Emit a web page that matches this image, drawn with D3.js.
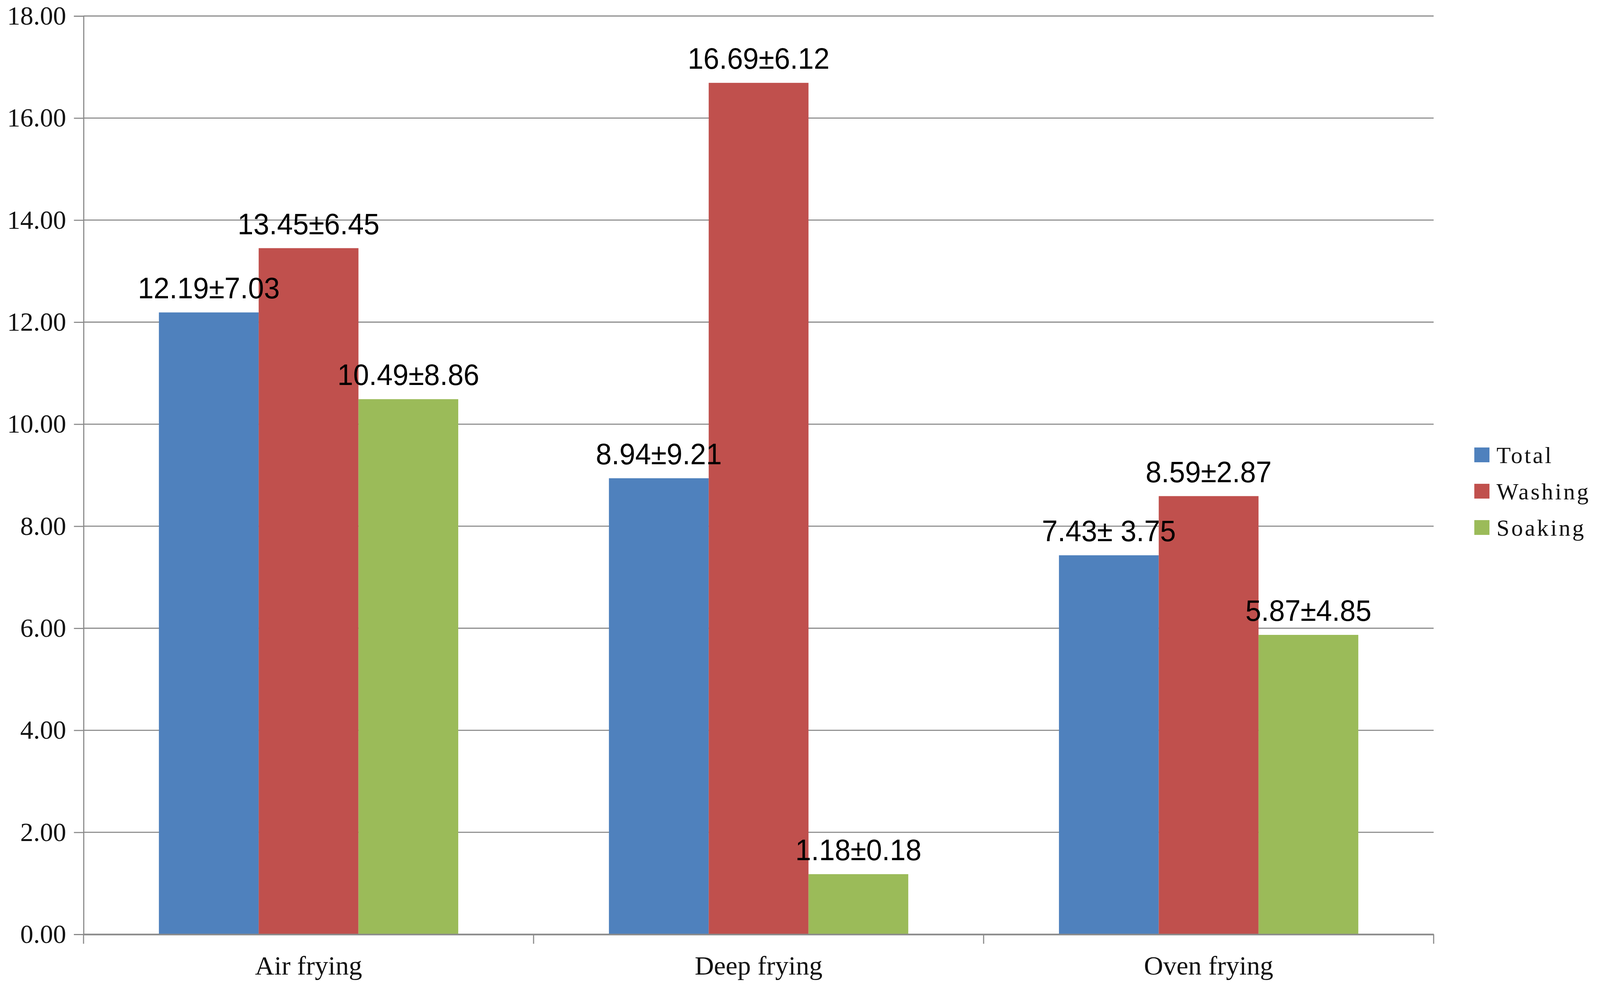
<!DOCTYPE html>
<html lang="en">
<head>
    <meta charset="UTF-8">
    <title>Frying chart</title>
    <script src="https://cdn.jsdelivr.net/npm/d3@7"></script>
    <style>
        html, body { margin: 0; padding: 0; width: 100%; height: 100%; overflow: hidden; background: #fff; }
        svg { display: block; }
    </style>
</head>
<body>
    <svg></svg>
<script>
    // data
    var categories = ["Air frying", "Deep frying", "Oven frying"];
    var seriesNames = ["Total", "Washing", "Soaking"];
    var seriesColors = ["#4F81BD", "#C0504D", "#9BBB59"];
    var totalValues = [12.19, 8.94, 7.43];
    var washingValues = [13.45, 16.69, 8.59];
    var soakingValues = [10.49, 1.18, 5.87];
    var totalLabels = ["12.19±7.03", "8.94±9.21", "7.43± 3.75"];
    var washingLabels = ["13.45±6.45", "16.69±6.12", "8.59±2.87"];
    var soakingLabels = ["10.49±8.86", "1.18±0.18", "5.87±4.85"];
    var yTicks = [0, 2, 4, 6, 8, 10, 12, 14, 16, 18];

    var allValues = [totalValues, washingValues, soakingValues];
    var allLabels = [totalLabels, washingLabels, soakingLabels];

    // layout is laid out on a 4328x2556 design and stretched to the window
    var W = window.innerWidth, H = window.innerHeight;
    var sx = W / 4328, sy = H / 2556, fs = Math.min(sx, sy);

    // plot box (window.top is reserved, so no bare "top")
    var plotLeft = 226 * sx, plotRight = 3878 * sx, plotTop = 41 * sy, plotBottom = 2393 * sy;
    var width = plotRight - plotLeft, height = plotBottom - plotTop;

    var svg = d3.select("svg").attr("width", W).attr("height", H);
    var g = svg.append("g").attr("transform", "translate(" + plotLeft + "," + plotTop + ")");

    var x0 = d3.scaleBand().domain(categories).range([0, width]).padding(0);
    var x1 = d3.scaleBand().domain(seriesNames).range([0, x0.bandwidth()])
        .paddingInner(0).paddingOuter(0.755);
    var y = d3.scaleLinear().domain([0, 18]).range([height, 0]);

    var gray = "#8a8a8a";

    // gridlines
    g.selectAll("line.grid")
        .data(yTicks)
        .join("line")
        .attr("class", "grid")
        .attr("x1", 0)
        .attr("x2", width)
        .attr("y1", function(d) { return y(d); })
        .attr("y2", function(d) { return y(d); })
        .attr("stroke", gray)
        .attr("stroke-width", 3 * fs);

    // y axis
    var yAxis = g.append("g")
        .call(d3.axisLeft(y).tickValues(yTicks).tickFormat(d3.format(".2f"))
            .tickSize(26 * sx).tickPadding(21 * sx));
    yAxis.selectAll("line").attr("stroke", gray).attr("stroke-width", 3 * fs);
    yAxis.select(".domain").attr("stroke", gray).attr("stroke-width", 3 * fs);
    yAxis.selectAll("text")
        .attr("font-family", "Liberation Serif")
        .attr("font-size", 71 * fs)
        .attr("fill", "#111");

    // bars
    var rows = [];
    categories.forEach(function(c, i) {
        seriesNames.forEach(function(s, j) {
            rows.push({cat: c, series: s, value: allValues[j][i], label: allLabels[j][i], color: seriesColors[j]});
        });
    });

    g.selectAll("rect.bar")
        .data(rows)
        .join("rect")
        .attr("class", "bar")
        .attr("x", function(d) { return x0(d.cat) + x1(d.series); })
        .attr("y", function(d) { return y(d.value); })
        .attr("width", x1.bandwidth())
        .attr("height", function(d) { return height - y(d.value); })
        .attr("fill", function(d) { return d.color; });

    // x axis
    var xAxis = g.append("g")
        .attr("transform", "translate(0," + height + ")")
        .call(d3.axisBottom(x0).tickSize(0).tickPadding(55 * sy));
    xAxis.select(".domain").attr("stroke", gray).attr("stroke-width", 4 * fs);
    xAxis.selectAll("text")
        .attr("font-family", "Liberation Serif")
        .attr("font-size", 72 * fs)
        .attr("fill", "#111");

    // category separators
    var sepPositions = categories.map(function(c) { return x0(c); }).concat([width]);
    g.selectAll("line.sep")
        .data(sepPositions)
        .join("line")
        .attr("class", "sep")
        .attr("x1", function(d) { return d; })
        .attr("x2", function(d) { return d; })
        .attr("y1", height)
        .attr("y2", height + 24 * sy)
        .attr("stroke", gray)
        .attr("stroke-width", 3 * fs);

    // value labels, slightly condensed sans like the source
    g.selectAll("text.val")
        .data(rows)
        .join("text")
        .attr("class", "val")
        .attr("transform", function(d) {
            var cx = x0(d.cat) + x1(d.series) + x1.bandwidth() / 2;
            return "translate(" + cx + "," + (y(d.value) - 36 * sy) + ") scale(0.96,1)";
        })
        .attr("text-anchor", "middle")
        .attr("font-family", "Liberation Sans")
        .attr("font-size", 80 * fs)
        .attr("fill", "#000")
        .text(function(d) { return d.label; });

    // legend
    var legend = svg.append("g").attr("transform", "translate(" + (3988 * sx) + "," + (1165 * sy) + ")");
    var items = legend.selectAll("g")
        .data(seriesNames)
        .join("g")
        .attr("transform", function(d, i) { return "translate(0," + (i * 93 * sy) + ")"; });
    items.append("rect")
        .attr("x", 0)
        .attr("y", -20 * fs)
        .attr("width", 41 * fs)
        .attr("height", 40 * fs)
        .attr("fill", function(d, i) { return seriesColors[i]; });
    items.append("text")
        .attr("x", 60 * sx)
        .attr("y", 0)
        .attr("dy", "0.35em")
        .attr("font-family", "Liberation Serif")
        .attr("font-size", 63 * fs)
        .attr("letter-spacing", 5 * fs)
        .attr("fill", "#111")
        .text(function(d) { return d; });
</script>
</body>
</html>
